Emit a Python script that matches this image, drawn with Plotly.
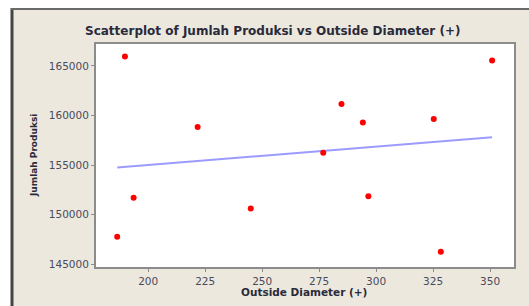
import numpy as np
import plotly.graph_objects as go

# Data
outside_diameter = [189.8, 350.9, 284.8, 294.2, 325.3, 221.7, 276.8, 193.6, 245.0, 296.6, 186.4, 328.4]
jumlah_produksi = [165950, 165550, 161150, 159300, 159650, 158850, 156250, 151700, 150600, 151850, 147750, 146250]

x_ticks = [200, 225, 250, 275, 300, 325, 350]
y_ticks = [145000, 150000, 155000, 160000, 165000]

title_text = "Scatterplot of Jumlah Produksi vs Outside Diameter (+)"
x_title = "Outside Diameter (+)"
y_title = "Jumlah Produksi"

W, H = 529, 306
SL, ST, SR, SB = 96, 44, 514, 267          # plot area in screen pixels
L, T = SL, ST
R, B = W - SR, H - SB
pw, ph = SR - SL, SB - ST


def px(xs):
    return (xs - SL) / pw


def py(ys):
    return (SB - ys) / ph


# Fitted regression line
slope, intercept = np.polyfit(outside_diameter, jumlah_produksi, 1)
fx = np.array([min(outside_diameter), max(outside_diameter)])
fy = slope * fx + intercept

fig = go.Figure()
fig.add_trace(go.Scatter(x=fx, y=fy, mode="lines",
                         line=dict(color="#9b9bff", width=2), hoverinfo="skip"))
fig.add_trace(go.Scatter(x=outside_diameter, y=jumlah_produksi, mode="markers",
                         marker=dict(color="#ff0000", size=6)))

bg = "#ece8de"
axis_common = dict(showgrid=False, zeroline=False, showline=True, mirror=True,
                   linecolor="#8c8c8c", linewidth=2, ticks="outside", ticklen=3,
                   tickcolor="#8c8c8c", tickwidth=1, automargin=False,
                   tickfont=dict(family="DejaVu Sans", size=10.5, color="#4a4a5a"))

fig.update_layout(
    width=W, height=H,
    margin=dict(l=L, r=R, t=T, b=B, autoexpand=False),
    paper_bgcolor=bg, plot_bgcolor="white",
    showlegend=False,
    xaxis=dict(range=[177.1, 360.5], tickvals=x_ticks, **axis_common),
    yaxis=dict(range=[144700, 167220], tickvals=y_ticks, tickformat="d", **axis_common),
    shapes=[
        dict(type="rect", xref="paper", yref="paper", x0=px(0), x1=px(11), y0=py(320), y1=py(0),
             fillcolor="white", line=dict(width=0), layer="above"),
        dict(type="rect", xref="paper", yref="paper", x0=px(0), x1=px(540), y0=py(8), y1=py(0),
             fillcolor="white", line=dict(width=0), layer="above"),
        dict(type="line", xref="paper", yref="paper", x0=px(12), x1=px(12), y0=py(8), y1=py(320),
             line=dict(color="#444444", width=3)),
        dict(type="line", xref="paper", yref="paper", x0=px(11), x1=px(540), y0=py(9), y1=py(9),
             line=dict(color="#6a6a6a", width=2)),
    ],
    annotations=[
        dict(text="<b>" + title_text + "</b>", xref="paper", yref="paper",
             x=px(272), y=py(31), showarrow=False, xanchor="center", yanchor="middle",
             font=dict(family="DejaVu Sans", size=12, color="#2a2a3a")),
        dict(text="<b>" + x_title + "</b>", xref="paper", yref="paper",
             x=px(304), y=py(292), showarrow=False, xanchor="center", yanchor="middle",
             font=dict(family="DejaVu Sans", size=10.5, color="#2a2a3a")),
        dict(text="<b>" + y_title + "</b>", xref="paper", yref="paper",
             x=px(34), y=py(156), showarrow=False, xanchor="center", yanchor="middle",
             textangle=-90, font=dict(family="DejaVu Sans", size=9, color="#2a2a3a")),
    ],
)

fig.write_html("out.html", config={"displayModeBar": False},
               post_script="document.body.style.margin='0';document.body.style.overflow='hidden';")
